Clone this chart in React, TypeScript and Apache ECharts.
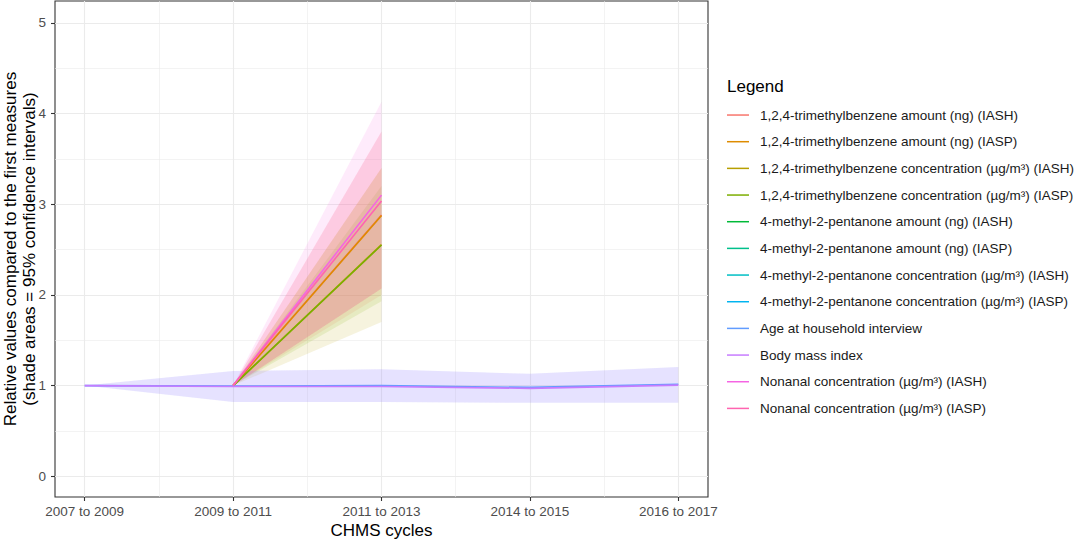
import React, { useEffect, useRef } from 'react';
import * as echarts from 'echarts';

const FONT = '"Liberation Sans", Arial, Helvetica, sans-serif';

// CHMS cycles (x categories, plotted at index positions)
const cycles = ['2007 to 2009', '2009 to 2011', '2011 to 2013', '2014 to 2015', '2016 to 2017'];
const cycleIndex = [0, 1, 2, 3, 4];
const xMinorTicks = [0.5, 1.5, 2.5, 3.5];
const yTicks = [0, 1, 2, 3, 4, 5];
const yMinorTicks = [0.5, 1.5, 2.5, 3.5, 4.5];

const seriesNames = [
  '1,2,4-trimethylbenzene amount (ng) (IASH)',
  '1,2,4-trimethylbenzene amount (ng) (IASP)',
  '1,2,4-trimethylbenzene concentration (µg/m³) (IASH)',
  '1,2,4-trimethylbenzene concentration (µg/m³) (IASP)',
  '4-methyl-2-pentanone amount (ng) (IASH)',
  '4-methyl-2-pentanone amount (ng) (IASP)',
  '4-methyl-2-pentanone concentration (µg/m³) (IASH)',
  '4-methyl-2-pentanone concentration (µg/m³) (IASP)',
  'Age at household interview',
  'Body mass index',
  'Nonanal concentration (µg/m³) (IASH)',
  'Nonanal concentration (µg/m³) (IASP)',
];

const seriesColors = [
  '#F8766D', '#DE8C00', '#B79F00', '#7CAE00', '#00BA38', '#00C08B',
  '#00BFC4', '#00B4F0', '#619CFF', '#C77CFF', '#F564E3', '#FF64B0',
];

// relative values (null = not measured in that cycle)
const tmbAmountIASH = [null, 1, 2.88, null, null];
const tmbAmountIASH_lo = [null, 1, 2.0, null, null];
const tmbAmountIASH_hi = [null, 1, 3.8, null, null];

const tmbAmountIASP = [null, 1, 2.875, null, null];
const tmbAmountIASP_lo = [null, 1, 2.07, null, null];
const tmbAmountIASP_hi = [null, 1, 3.4, null, null];

const tmbConcIASH = [null, 1, 2.555, null, null];
const tmbConcIASH_lo = [null, 1, 1.7, null, null];
const tmbConcIASH_hi = [null, 1, 3.4, null, null];

const tmbConcIASP = [null, 1, 2.55, null, null];
const tmbConcIASP_lo = [null, 1, 1.93, null, null];
const tmbConcIASP_hi = [null, 1, 3.2, null, null];

const mpAmountIASH: (number | null)[] = [null, null, null, null, null];
const mpAmountIASP: (number | null)[] = [null, null, null, null, null];
const mpConcIASH: (number | null)[] = [null, null, null, null, null];
const mpConcIASP: (number | null)[] = [null, null, null, null, null];

const ageValues = [1, 0.995, 1.0, 0.98, 1.015];
const ageValues_lo = [1, 0.82, 0.82, 0.81, 0.81];
const ageValues_hi = [1, 1.16, 1.18, 1.13, 1.205];

const bmiValues = [1, 0.99, 0.99, 0.97, 1.005];
const bmiValues_lo = [1, 0.82, 0.82, 0.81, 0.81];
const bmiValues_hi = [1, 1.16, 1.18, 1.13, 1.205];

const nonanalIASH = [null, 1, 3.1, null, null];
const nonanalIASH_lo = [null, 1, 2.07, null, null];
const nonanalIASH_hi = [null, 1, 4.13, null, null];

const nonanalIASP = [null, 1, 3.035, null, null];
const nonanalIASP_lo = [null, 1, 2.07, null, null];
const nonanalIASP_hi = [null, 1, 3.8, null, null];

const seriesValues = [
  tmbAmountIASH, tmbAmountIASP, tmbConcIASH, tmbConcIASP,
  mpAmountIASH, mpAmountIASP, mpConcIASH, mpConcIASP,
  ageValues, bmiValues, nonanalIASH, nonanalIASP,
];
const seriesLower = [
  tmbAmountIASH_lo, tmbAmountIASP_lo, tmbConcIASH_lo, tmbConcIASP_lo,
  null, null, null, null,
  ageValues_lo, bmiValues_lo, nonanalIASH_lo, nonanalIASP_lo,
];
const seriesUpper = [
  tmbAmountIASH_hi, tmbAmountIASP_hi, tmbConcIASH_hi, tmbConcIASP_hi,
  null, null, null, null,
  ageValues_hi, bmiValues_hi, nonanalIASH_hi, nonanalIASP_hi,
];

const GRID_LEFT = 55;
const GRID_RIGHT_X = 708;
const GRID_TOP = 1;
const GRID_BOTTOM_Y = 497;

function ribbon(idx: number) {
  const lo = seriesLower[idx] as (number | null)[];
  const hi = seriesUpper[idx] as (number | null)[];
  const color = seriesColors[idx];
  return {
    type: 'custom',
    name: 'ribbon-' + idx,
    silent: true,
    z: 1,
    xAxisIndex: 0,
    yAxisIndex: 0,
    data: [[1, 1]],
    encode: { x: 0, y: 1 },
    renderItem: (params: any, api: any) => {
      const pts: number[][] = [];
      cycleIndex.forEach((i) => {
        if (hi[i] != null) pts.push(api.coord([i, hi[i]]));
      });
      for (let k = cycleIndex.length - 1; k >= 0; k--) {
        const i = cycleIndex[k];
        if (lo[i] != null) pts.push(api.coord([i, lo[i]]));
      }
      return {
        type: 'polygon',
        shape: { points: pts },
        style: { fill: color, opacity: 0.13 },
      };
    },
  };
}

function lineSeries(idx: number) {
  const vals = seriesValues[idx];
  const data: number[][] = [];
  cycleIndex.forEach((i) => {
    const v = vals[i];
    if (v != null) data.push([i, v]);
  });
  return {
    type: 'line',
    name: seriesNames[idx],
    data,
    xAxisIndex: 0,
    yAxisIndex: 0,
    showSymbol: false,
    symbol: 'none',
    z: 3,
    color: seriesColors[idx],
    lineStyle: { color: seriesColors[idx], width: 1.6 },
    emphasis: { disabled: true },
  };
}

export default function App() {
  const ref = useRef<HTMLDivElement>(null);
  useEffect(() => {
    if (!ref.current) return;
    const chart = echarts.init(ref.current, undefined, { renderer: 'svg' });
    const series: any[] = [];
    seriesNames.forEach((_, i) => {
      if (seriesLower[i]) series.push(ribbon(i));
    });
    seriesNames.forEach((_, i) => series.push(lineSeries(i)));

    const gridMidY = (GRID_TOP + GRID_BOTTOM_Y) / 2;
    const gridMidX = (GRID_LEFT + GRID_RIGHT_X) / 2;

    chart.setOption({
      animation: false,
      backgroundColor: '#ffffff',
      textStyle: { fontFamily: FONT },
      grid: {
        left: GRID_LEFT,
        right: 1084 - GRID_RIGHT_X,
        top: GRID_TOP,
        bottom: 539 - GRID_BOTTOM_Y,
        show: true,
        borderColor: '#333333',
        borderWidth: 1.1,
        backgroundColor: 'transparent',
        containLabel: false,
      },
      xAxis: [
        {
          type: 'value',
          min: -0.2,
          max: 4.2,
          position: 'bottom',
          axisLine: { show: false, onZero: false },
          axisTick: {
            show: true,
            inside: false,
            customValues: cycleIndex,
            length: 4,
            lineStyle: { color: '#333333', width: 1.1 },
          },
          axisLabel: {
            customValues: cycleIndex,
            formatter: (v: number) => cycles[Math.round(v)] ?? '',
            color: '#4D4D4D',
            fontSize: 13.5,
            fontFamily: FONT,
            margin: 7,
          },
          splitLine: { show: true, lineStyle: { color: '#EBEBEB', width: 1.1 } },
        },
        {
          type: 'value',
          min: -0.2,
          max: 4.2,
          position: 'top',
          axisLine: { show: false, onZero: false },
          axisTick: { show: false, customValues: xMinorTicks },
          axisLabel: { show: false },
          splitLine: { show: true, lineStyle: { color: '#EBEBEB', width: 0.6 } },
        },
      ],
      yAxis: [
        {
          type: 'value',
          min: -0.228,
          max: 5.24,
          position: 'left',
          axisLine: { show: false, onZero: false },
          axisTick: {
            show: true,
            inside: false,
            customValues: yTicks,
            length: 4,
            lineStyle: { color: '#333333', width: 1.1 },
          },
          axisLabel: {
            customValues: yTicks,
            color: '#4D4D4D',
            fontSize: 13.5,
            fontFamily: FONT,
            margin: 9,
          },
          splitLine: { show: true, lineStyle: { color: '#EBEBEB', width: 1.1 } },
        },
        {
          type: 'value',
          min: -0.228,
          max: 5.24,
          position: 'right',
          axisLine: { show: false, onZero: false },
          axisTick: { show: false, customValues: yMinorTicks },
          axisLabel: { show: false },
          splitLine: { show: true, lineStyle: { color: '#EBEBEB', width: 0.6 } },
        },
      ],
      legend: {
        orient: 'vertical',
        left: 727,
        top: 101.7,
        padding: 0,
        itemGap: 0,
        itemWidth: 22,
        itemHeight: 1.5,
        icon: 'rect',
        selectedMode: false,
        data: seriesNames,
        textStyle: {
          fontSize: 13.5,
          fontFamily: FONT,
          color: '#1A1A1A',
          lineHeight: 26.67,
          padding: [0, 0, 0, 6],
        },
      },
      graphic: [
        {
          type: 'text',
          x: 10.5,
          y: gridMidY,
          rotation: Math.PI / 2,
          style: {
            text: 'Relative values compared to the first measures',
            fontSize: 17,
            fontFamily: FONT,
            fill: '#000000',
            align: 'center',
            verticalAlign: 'middle',
          },
        },
        {
          type: 'text',
          x: 29,
          y: gridMidY,
          rotation: Math.PI / 2,
          style: {
            text: '(shade areas = 95% confidence intervals)',
            fontSize: 17,
            fontFamily: FONT,
            fill: '#000000',
            align: 'center',
            verticalAlign: 'middle',
          },
        },
        {
          type: 'text',
          x: gridMidX,
          y: 530,
          style: {
            text: 'CHMS cycles',
            fontSize: 17,
            fontFamily: FONT,
            fill: '#000000',
            align: 'center',
            verticalAlign: 'middle',
          },
        },
        {
          type: 'text',
          x: 727,
          y: 86,
          style: {
            text: 'Legend',
            fontSize: 17,
            fontFamily: FONT,
            fill: '#000000',
            align: 'left',
            verticalAlign: 'middle',
          },
        },
      ],
      series,
    });
    return () => chart.dispose();
  }, []);

  return (
    <div
      ref={ref}
      style={{ position: 'absolute', left: 0, top: 0, width: 1084, height: 539 }}
    />
  );
}
